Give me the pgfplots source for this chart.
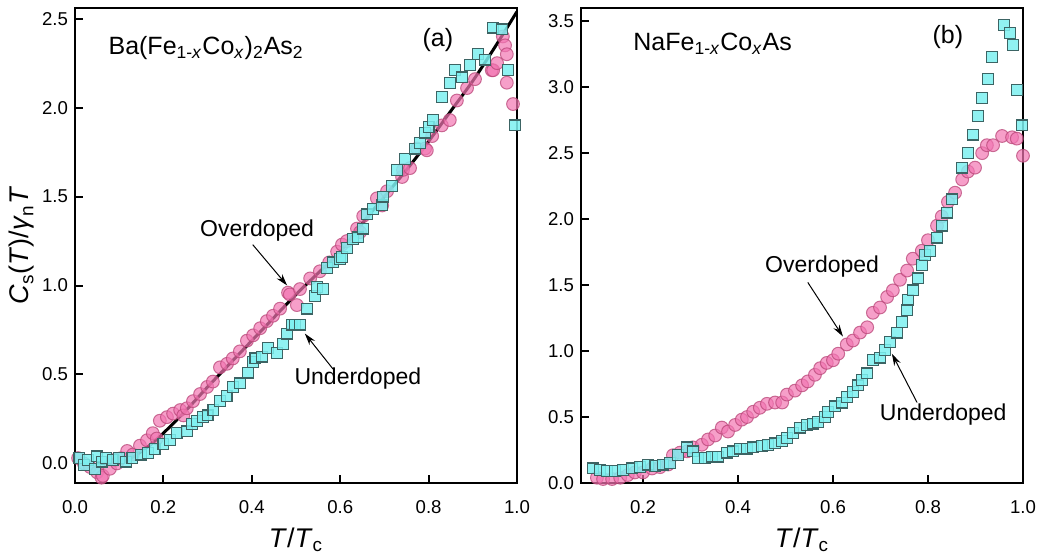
\documentclass[border=0pt]{standalone}
\usepackage{fontspec}
\setmainfont{Liberation Sans}
\usepackage{pgfplots}
\pgfplotsset{compat=1.18}
\usetikzlibrary{arrows.meta}

\definecolor{pinkfill}{RGB}{242,118,178}
\definecolor{pinkedge}{RGB}{185,70,120}
\definecolor{cyanfill}{RGB}{125,240,240}
\definecolor{cyanedge}{RGB}{60,100,100}

\tikzset{
  lab/.style={font=\fontsize{11.5}{13}\selectfont},
  ttl/.style={font=\fontsize{12.5}{14}\selectfont},
  arr/.style={-{Stealth[length=6pt,width=3.5pt]}, line width=0.5pt},
}
\pgfplotsset{
  panel/.style={
    scale only axis, width=221pt, height=237.5pt,
    xtick pos=bottom, ytick pos=left, tick align=inside,
    axis line style={line width=1.1pt},
    every tick/.style={black, line width=1pt},
    major tick length=4pt,
    tick label style={font=\fontsize{9.3}{11}\selectfont},
    label style={font=\fontsize{13.5}{15}\selectfont},
    /pgf/number format/assume math mode=true,
    xticklabel style={yshift=-5pt, /pgf/number format/.cd, fixed, fixed zerofill, precision=1},
    yticklabel style={/pgf/number format/.cd, fixed, fixed zerofill, precision=1},
    xlabel={\textit{T}/\textit{T}\textsubscript{c}},
    xlabel style={at={(axis description cs:0.5,-0.12)}, anchor=center},
  },
  over/.style={only marks, mark=*, mark size=3.2pt,
    mark options={draw=pinkedge, fill=pinkfill, fill opacity=0.7, draw opacity=0.75, line width=0.5pt}},
  under/.style={only marks, mark=square*, mark size=2.7pt,
    mark options={draw=cyanedge, fill=cyanfill, fill opacity=0.85, line width=0.6pt}},
}

\begin{document}
\begin{tikzpicture}
\path[use as bounding box] (-37.5pt,-38.5pt) rectangle (482.5pt,241.5pt);

% (a) Ba(Fe1-xCox)2As2
\begin{axis}[panel, at={(0,0)}, anchor=south west,
  xmin=0, xmax=1, ymin=-0.11, ymax=2.56,
  xtick={0,0.2,0.4,0.6,0.8,1.0}, ytick={0,0.5,1,1.5,2,2.5},
  ylabel={\textit{C}\textsubscript{s}(\textit{T})/\textit{γ}\textsubscript{n}\textit{T}},
  ylabel style={at={(axis description cs:-0.12,0.5)}, anchor=center}]
\addplot[over] coordinates {
(0.007,0.03)(0.02,0.0)(0.034,-0.02)(0.05,-0.05)(0.06,-0.08)(0.063,-0.07)(0.079,-0.03)
(0.09,0.02)(0.095,0.0)(0.105,0.03)(0.118,0.07)(0.131,0.05)(0.147,0.10)(0.163,0.13)
(0.176,0.17)(0.185,0.14)(0.192,0.24)(0.208,0.26)(0.222,0.28)(0.238,0.30)(0.245,0.27)
(0.253,0.31)(0.267,0.35)(0.283,0.39)(0.299,0.43)(0.312,0.46)(0.328,0.54)(0.344,0.56)
(0.357,0.59)(0.373,0.63)(0.389,0.69)(0.403,0.72)(0.419,0.76)(0.434,0.80)(0.448,0.83)
(0.464,0.87)(0.482,0.96)(0.486,0.95)(0.502,0.89)(0.509,0.98)(0.532,1.04)(0.554,1.08)
(0.575,1.13)(0.593,1.19)(0.604,1.23)(0.615,1.25)(0.638,1.32)(0.645,1.30)(0.652,1.39)
(0.683,1.49)(0.695,1.45)(0.706,1.53)(0.74,1.61)(0.742,1.65)(0.758,1.66)(0.774,1.77)
(0.792,1.77)(0.796,1.76)(0.808,1.84)(0.83,1.90)(0.848,1.93)(0.864,2.04)(0.887,2.11)
(0.905,2.16)(0.943,2.21)(0.946,2.21)(0.955,2.25)(0.968,2.40)(0.973,2.35)(0.977,2.30)
(0.977,2.14)(0.991,2.02)};
\addplot[under] coordinates {
(0.01,0.03)(0.02,-0.01)(0.03,0.02)(0.045,-0.03)(0.05,0.04)(0.06,0.01)(0.07,0.03)
(0.085,0.02)(0.10,0.03)(0.115,0.01)(0.13,0.03)(0.15,0.05)(0.165,0.06)(0.18,0.08)
(0.20,0.11)(0.215,0.13)(0.23,0.17)(0.253,0.18)(0.265,0.22)(0.276,0.24)(0.29,0.26)
(0.30,0.27)(0.313,0.30)(0.328,0.35)(0.343,0.38)(0.358,0.43)(0.373,0.45)(0.392,0.51)
(0.403,0.57)(0.408,0.59)(0.423,0.60)(0.437,0.65)(0.457,0.62)(0.471,0.67)(0.48,0.73)
(0.49,0.78)(0.498,0.78)(0.509,0.78)(0.525,0.87)(0.543,0.94)(0.547,0.99)(0.561,0.98)
(0.57,1.10)(0.584,1.13)(0.6,1.15)(0.604,1.16)(0.615,1.21)(0.629,1.26)(0.64,1.27)
(0.652,1.32)(0.66,1.40)(0.674,1.43)(0.694,1.45)(0.697,1.50)(0.717,1.56)(0.728,1.65)
(0.747,1.71)(0.769,1.77)(0.78,1.80)(0.792,1.86)(0.80,1.89)(0.81,1.93)(0.83,2.06)
(0.848,2.14)(0.86,2.21)(0.876,2.17)(0.894,2.24)(0.912,2.30)(0.928,2.27)(0.946,2.45)
(0.966,2.44)(0.98,2.21)(0.995,1.90)};
\addplot[black, line width=1.5pt, smooth] coordinates {
(0.05,0.0)(0.08,0.0)(0.10,0.005)(0.12,0.02)(0.14,0.05)(0.16,0.085)(0.18,0.125)
(0.20,0.17)(0.25,0.295)(0.30,0.43)(0.35,0.56)(0.40,0.69)(0.45,0.82)(0.50,0.95)
(0.55,1.07)(0.60,1.19)(0.65,1.35)(0.70,1.50)(0.75,1.65)(0.80,1.81)(0.85,1.98)
(0.90,2.15)(0.95,2.34)(1.0,2.54)};
\node[ttl, anchor=west] at (axis cs:0.06,2.335)
  {Ba(Fe\textsubscript{1-\textit{x}}Co\textsubscript{\textit{x}})\textsubscript{2}As\textsubscript{2}};
\node[ttl] at (axis cs:0.821,2.38) {(a)};
\node[lab] at (axis cs:0.412,1.31) {Overdoped};
\draw[arr] (axis cs:0.402,1.23) -- (axis cs:0.48,1.0);
\node[lab] at (axis cs:0.64,0.475) {Underdoped};
\draw[arr] (axis cs:0.584,0.53) -- (axis cs:0.52,0.73);
\end{axis}

% (b) NaFe1-xCoxAs
\begin{axis}[panel, at={(253pt,0)}, anchor=south west,
  xmin=0.0695, xmax=1, ymin=0, ymax=3.6,
  xtick={0.2,0.4,0.6,0.8,1.0}, ytick={0,0.5,1,1.5,2,2.5,3,3.5}]
\addplot[over] coordinates {
(0.103,0.04)(0.116,0.03)(0.135,0.03)(0.152,0.04)(0.168,0.06)(0.183,0.08)(0.2,0.08)
(0.219,0.11)(0.236,0.12)(0.253,0.14)(0.263,0.21)(0.278,0.23)(0.293,0.24)(0.305,0.27)
(0.324,0.29)(0.337,0.33)(0.352,0.36)(0.366,0.42)(0.379,0.39)(0.394,0.44)(0.408,0.48)
(0.419,0.50)(0.432,0.54)(0.446,0.57)(0.461,0.60)(0.478,0.61)(0.493,0.61)(0.503,0.67)
(0.52,0.70)(0.535,0.74)(0.547,0.77)(0.562,0.82)(0.573,0.87)(0.587,0.91)(0.6,0.93)
(0.611,0.98)(0.629,1.05)(0.642,1.08)(0.657,1.14)(0.672,1.18)(0.684,1.29)(0.699,1.33)
(0.714,1.41)(0.726,1.46)(0.741,1.54)(0.756,1.61)(0.768,1.70)(0.787,1.76)(0.80,1.84)
(0.819,1.95)(0.829,2.02)(0.842,2.13)(0.857,2.20)(0.872,2.30)(0.884,2.36)(0.899,2.39)
(0.914,2.50)(0.924,2.56)(0.937,2.56)(0.956,2.63)(0.977,2.62)(0.987,2.61)(1.0,2.48)};
\addplot[under] coordinates {
(0.095,0.11)(0.109,0.10)(0.124,0.09)(0.141,0.09)(0.158,0.10)(0.177,0.11)(0.194,0.12)
(0.211,0.14)(0.226,0.13)(0.242,0.14)(0.257,0.15)(0.274,0.21)(0.293,0.27)(0.305,0.24)
(0.316,0.19)(0.331,0.19)(0.345,0.20)(0.358,0.20)(0.377,0.23)(0.389,0.24)(0.404,0.26)
(0.419,0.26)(0.432,0.27)(0.451,0.28)(0.463,0.29)(0.478,0.30)(0.493,0.32)(0.503,0.34)
(0.516,0.38)(0.531,0.42)(0.545,0.44)(0.558,0.45)(0.568,0.46)(0.583,0.50)(0.589,0.54)
(0.604,0.58)(0.619,0.61)(0.629,0.65)(0.642,0.69)(0.653,0.74)(0.661,0.78)(0.672,0.83)
(0.684,0.93)(0.699,0.95)(0.709,1.01)(0.72,1.07)(0.735,1.14)(0.745,1.22)(0.756,1.31)
(0.758,1.39)(0.768,1.46)(0.779,1.55)(0.787,1.65)(0.794,1.73)(0.804,1.76)(0.819,1.86)
(0.829,1.95)(0.84,2.05)(0.851,2.15)(0.872,2.39)(0.884,2.50)(0.895,2.64)(0.905,2.78)
(0.914,2.92)(0.926,3.06)(0.935,3.23)(0.96,3.47)(0.973,3.41)(0.979,3.32)(0.987,2.98)
(0.998,2.71)};
\node[ttl, anchor=west] at (axis cs:0.165,3.33)
  {NaFe\textsubscript{1-\textit{x}}Co\textsubscript{\textit{x}}As};
\node[ttl] at (axis cs:0.842,3.38) {(b)};
\node[lab] at (axis cs:0.577,1.64) {Overdoped};
\draw[arr] (axis cs:0.547,1.52) -- (axis cs:0.621,1.11);
\node[lab] at (axis cs:0.832,0.515) {Underdoped};
\draw[arr] (axis cs:0.777,0.61) -- (axis cs:0.724,0.98);
\end{axis}
\end{tikzpicture}
\end{document}
